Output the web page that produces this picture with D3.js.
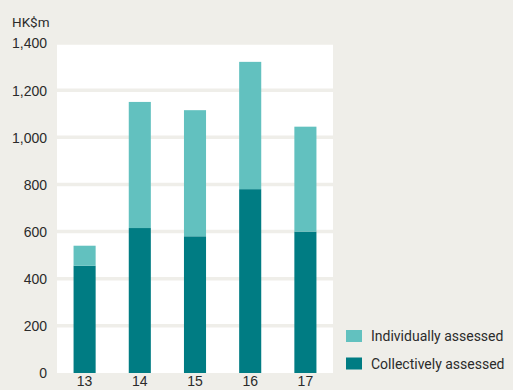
<!DOCTYPE html>
<html>
<head>
	<meta charset="utf-8">
	<style>
		body {
			margin: 0;
			background-color: #efeee9;
			font-family: Roboto, "Open Sans", sans-serif;
		}
		svg {
			display: block;
		}
		.axis path, .axis line {
			display: none;
		}
		.axis text {
			font-size: 14px;
			fill: #2b2b2b;
		}
		.grid line {
			stroke: #efeee9;
			stroke-width: 3.5px;
		}
		.legend text {
			font-size: 14px;
			fill: #2b2b2b;
		}
	</style>
</head>
<body>
<script src="https://cdn.jsdelivr.net/npm/d3@7"></script>
<script>
	var years = ["13", "14", "15", "16", "17"];
	var collective = [455, 615, 580, 780, 600];
	var individual = [85, 535, 535, 540, 445];
	var yTicks = [0, 200, 400, 600, 800, 1000, 1200, 1400];
	var seriesNames = ["Individually assessed", "Collectively assessed"];
	var colors = {collective: "#007c83", individual: "#62c1bf"};

	var W = 513, H = 390;
	var plot = {left: 57, right: 333, top: 43, bottom: 373};

	var svg = d3.select("body").append("svg")
		.attr("width", W)
		.attr("height", H);

	var x = d3.scaleBand()
		.domain(years)
		.range([plot.left, plot.right])
		.paddingInner(0.6)
		.paddingOuter(0.3);
	var y = d3.scaleLinear()
		.domain([0, 1400])
		.range([plot.bottom, plot.top]);

	// white plot background
	svg.append("rect")
		.attr("x", plot.left)
		.attr("y", plot.top)
		.attr("width", plot.right - plot.left)
		.attr("height", plot.bottom - plot.top)
		.attr("fill", "#fff");

	// gridlines in background colour
	svg.append("g")
		.attr("class", "grid")
		.selectAll("line")
		.data(yTicks.filter(function(d) { return d > 0; }))
		.enter().append("line")
			.attr("x1", plot.left)
			.attr("x2", plot.right)
			.attr("y1", function(d) { return y(d); })
			.attr("y2", function(d) { return y(d); });

	var data = years.map(function(yr, i) {
		return {year: yr, collective: collective[i], individual: individual[i]};
	});
	var stacked = d3.stack().keys(["collective", "individual"])(data);

	svg.append("g")
		.selectAll("g")
		.data(stacked)
		.enter().append("g")
			.attr("fill", function(s) { return colors[s.key]; })
		.selectAll("rect")
		.data(function(s) { return s; })
		.enter().append("rect")
			.attr("x", function(d) { return x(d.data.year); })
			.attr("width", x.bandwidth())
			.attr("y", function(d) { return y(d[1]); })
			.attr("height", function(d) { return y(d[0]) - y(d[1]); });

	var yAxis = d3.axisLeft(y)
		.tickValues(yTicks)
		.tickSize(0)
		.tickPadding(10)
		.tickFormat(d3.format(","));
	svg.append("g")
		.attr("class", "axis")
		.attr("transform", "translate(" + plot.left + ",0)")
		.call(yAxis)
		.selectAll("text")
			.attr("dy", "0.35em");

	var xAxis = d3.axisBottom(x).tickSize(0).tickPadding(3);
	svg.append("g")
		.attr("class", "axis")
		.attr("transform", "translate(0," + plot.bottom + ")")
		.call(xAxis);

	svg.append("text")
		.attr("x", 12)
		.attr("y", 27)
		.attr("font-size", 13.5)
		.attr("fill", "#2b2b2b")
		.text("HK$m");

	// legend
	var legend = svg.append("g").attr("class", "legend");
	var legendItems = [
		{name: seriesNames[0], color: colors.individual},
		{name: seriesNames[1], color: colors.collective}
	];
	var item = legend.selectAll("g")
		.data(legendItems)
		.enter().append("g")
			.attr("transform", function(d, i) { return "translate(346," + (330 + i * 27.5) + ")"; });
	item.append("rect")
		.attr("width", 16)
		.attr("height", 12)
		.attr("fill", function(d) { return d.color; });
	item.append("text")
		.attr("x", 25)
		.attr("y", 11)
		.text(function(d) { return d.name; });
</script>
</body>
</html>
